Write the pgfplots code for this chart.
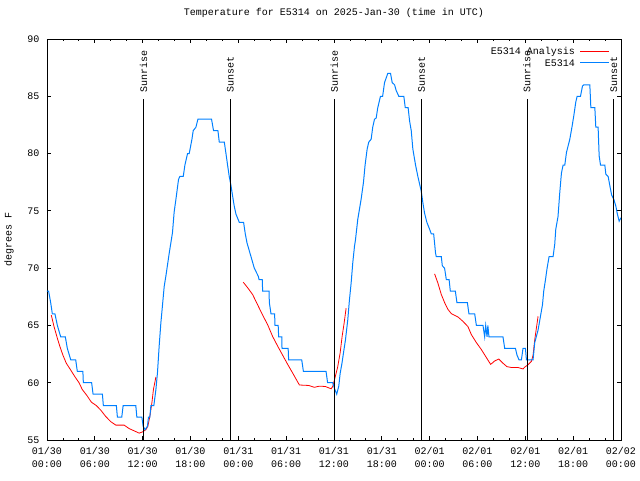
\documentclass[border=0pt]{standalone}
\usepackage{fontspec}
\setmainfont{Liberation Mono}
\usepackage{pgfplots}
\pgfplotsset{compat=1.18}
\definecolor{obsblue}{RGB}{0,128,255}
\definecolor{anared}{RGB}{255,0,0}
\begin{document}
\begin{tikzpicture}
\path[use as bounding box] (-47pt,-40pt) rectangle (593pt,440pt);
\begin{axis}[
  at={(0pt,0pt)}, anchor=south west,
  scale only axis, width=574pt, height=401pt,
  xmin=0, xmax=72, ymin=55, ymax=90,
  font=\fontsize{10}{13}\selectfont,
  /pgf/number format/assume math mode=true,
  xtick={0,6,...,72}, minor x tick num=2,
  ytick={55,60,...,90},
  xticklabels={{01/30\\00:00},{01/30\\06:00},{01/30\\12:00},{01/30\\18:00},
    {01/31\\00:00},{01/31\\06:00},{01/31\\12:00},{01/31\\18:00},
    {02/01\\00:00},{02/01\\06:00},{02/01\\12:00},{02/01\\18:00},{02/02\\00:00}},
  xticklabel style={align=center, yshift=-4pt},
  yticklabel style={xshift=-4pt},
  tick align=inside, major tick length=4pt, minor tick length=2pt,
  tick style={black, line width=0.8pt},
  axis line style={line width=0.8pt},
  title={Temperature for E5314 on 2025-Jan-30 (time in UTC)},
  title style={at={(axis description cs:0.5,1)}, anchor=center, yshift=20pt},
  ylabel={degrees F},
  every axis y label/.style={at={(axis description cs:-0.066,0.5)}, rotate=90, anchor=center},
  every axis legend/.style={at={(1,1)}, anchor=north east,
    xshift=-11pt, yshift=-8pt, row sep=3pt, column sep=5pt, inner sep=0pt, cells={anchor=east}},
  legend plot pos=right, legend cell align=right,
  legend image code/.code={\draw[#1] (0pt,0pt) -- (29pt,0pt);},
]
% analysis (red), three separate runs
\addplot[anared, line width=0.8pt] coordinates {
(0.54,65.9)(0.88,64.9)(1.29,63.9)(1.6,63.2)(2.0,62.4)(2.42,61.7)(2.98,61.1)(3.52,60.5)
(4.02,60.0)(4.43,59.4)(4.99,58.9)(5.57,58.3)(6.2,58.0)(6.75,57.6)(7.37,57.05)(8.0,56.6)
(8.63,56.3)(9.67,56.3)(10.3,56.0)(10.93,55.8)(11.56,55.6)(11.97,55.7)(12.4,55.9)(12.65,56.2)
(12.9,57.05)(13.15,58.2)(13.35,59.4)(13.66,60.5)};
\addlegendentry{E5314 Analysis}
\addplot[anared, line width=0.8pt, forget plot] coordinates {
(24.62,68.77)(25.16,68.3)(25.79,67.7)(26.42,66.8)(27.05,65.9)(27.68,65.06)(28.3,64.04)
(28.93,63.2)(29.56,62.4)(30.19,61.6)(30.82,60.84)(31.66,59.8)(32.83,59.76)(33.54,59.6)
(34.17,59.7)(34.92,59.67)(35.64,59.47)(35.84,59.67)(36.06,60.25)(36.47,61.4)(36.77,62.6)
(37.02,64.04)(37.27,65.2)(37.52,66.5)};
\addplot[anared, line width=0.8pt, forget plot] coordinates {
(48.62,69.5)(49.03,68.7)(49.46,67.7)(49.87,67.0)(50.29,66.4)(50.72,66.03)(51.55,65.74)
(52.17,65.36)(52.8,64.9)(53.23,64.2)(53.86,63.5)(54.48,62.9)(55.11,62.2)(55.65,61.6)
(56.16,61.9)(56.66,62.07)(57.2,61.7)(57.7,61.4)(58.25,61.33)(59.08,61.33)(59.71,61.2)
(59.92,61.36)(60.33,61.56)(60.76,61.86)(60.97,62.4)(61.18,63.75)(61.39,64.78)(61.6,65.8)};
% observations (blue)
\addplot[obsblue, line width=1pt] coordinates {
(0,68)(0.2,68)(0.46,67)(0.67,66)(1.0,66)(1.3,65)(1.72,64)(2.3,64)(2.55,63)(2.98,62)
(3.6,62)(3.8,61)(4.5,61)(4.56,60)(5.6,60)(5.78,59)(6.95,59)(7.07,58)(8.7,58)(8.83,57)
(9.38,57)(9.55,58)(11.14,58)(11.27,57)(11.9,57)(12.06,56.2)(12.3,55.9)(12.6,56.2)
(12.73,57)(12.9,57)(13.03,58)(13.4,58)(13.66,59.4)(13.86,60.9)(14.07,63.2)(14.28,65.2)
(14.48,66.7)(14.7,68.4)(14.91,69.3)(15.33,71.3)(15.74,73.1)(15.95,74.9)(16.17,76)
(16.5,77.75)(16.67,78)(17.09,78)(17.3,79)(17.63,80)(17.84,80)(18.18,81.25)(18.34,82)
(18.68,82.3)(18.93,83)(20.64,83)(20.89,82)(21.44,82)(21.61,81)(22.24,81)(22.45,80)
(22.65,79)(22.86,78)(23.08,77.2)(23.28,76.3)(23.49,75.4)(23.71,74.7)(24.12,74)(24.66,74)
(24.87,73)(25.09,72.2)(25.59,71)(26.0,70)(26.5,69.3)(26.6,69)(27.0,69)(27.05,68)
(27.85,68)(27.89,67)(28.1,66)(28.55,66)(28.6,65)(29.0,65)(29.06,64)(29.45,64)(29.48,63)
(30.25,63)(30.31,62)(31.95,62)(32.16,61)(35.0,61)(35.2,60)(35.84,60)(36.06,59.5)
(36.34,59)(36.6,59.7)(36.77,60.8)(37.0,61.7)(37.19,62.6)(37.44,63.75)(37.73,65.5)
(37.94,67.25)(38.15,68.7)(38.36,70.5)(38.57,71.9)(38.7,72.5)(38.98,74.25)(39.4,76)
(39.7,77.5)(39.9,79)(40.16,80.4)(40.36,81)(40.66,81.25)(40.86,82.3)(41.08,83)(41.29,83.1)
(41.49,84)(41.83,85)(42.1,85)(42.34,86.2)(42.75,87)(43.09,87)(43.3,86.2)(43.6,86)
(43.8,85.5)(44.13,85)(44.76,85)(44.94,84)(45.3,84)(45.48,82.85)(45.69,82)(45.89,80.4)
(46.23,79)(46.52,78)(46.95,76.7)(47.15,75.7)(47.36,74.8)(47.65,74)(47.99,73.4)(48.2,73)
(48.5,73)(48.74,71.3)(48.83,71)(49.46,71)(49.59,70.2)(49.87,70)(50.09,69)(50.44,69)
(50.59,68)(51.22,68)(51.42,67)(52.73,67)(52.93,66)(53.65,66)(53.86,65)(54.69,65)
(54.9,64)(55.03,65)(55.2,64)(55.3,65)(55.44,64)(57.2,64)(57.41,63)(58.76,63)(58.96,62.4)
(59.21,62)(59.51,62)(59.71,63)(60.01,63)(60.14,62)(60.97,62)(61.18,63.5)(61.6,64.6)
(61.9,65.8)(62.15,66.8)(62.31,68)(62.53,69)(62.73,70)(62.98,71)(63.48,71)(63.69,72.1)
(63.82,73.4)(64.1,74.5)(64.32,76.6)(64.53,78.3)(64.74,79)(64.95,79)(65.16,80.1)
(65.58,81.25)(65.87,82.4)(66.08,83.3)(66.33,84.5)(66.5,85)(66.92,85)(67.17,85.9)(67.34,86)
(68.09,86)(68.22,84)(68.72,84)(68.84,82.3)(69.13,82.3)(69.26,79.8)(69.43,79)(69.97,79)
(70.1,78.2)(70.39,78)(70.6,77.2)(70.82,76.4)(71.1,76)(71.36,75.4)(71.52,74.8)(71.77,74.1)
(72,74.4)};
\addlegendentry{E5314}
% sunrise / sunset markers
\addplot[black, line width=0.8pt, forget plot] coordinates {(12.1,55) (12.1,84.8)};
\addplot[black, line width=0.8pt, forget plot] coordinates {(23.0,55) (23.0,84.8)};
\addplot[black, line width=0.8pt, forget plot] coordinates {(36.05,55) (36.05,84.8)};
\addplot[black, line width=0.8pt, forget plot] coordinates {(47.0,55) (47.0,84.8)};
\addplot[black, line width=0.8pt, forget plot] coordinates {(60.2,55) (60.2,84.8)};
\addplot[black, line width=0.8pt, forget plot] coordinates {(71.1,55) (71.1,84.8)};
\node[rotate=90, anchor=west, inner sep=0pt] at (axis cs:12.1,85.3) {Sunrise};
\node[rotate=90, anchor=west, inner sep=0pt] at (axis cs:23.0,85.3) {Sunset};
\node[rotate=90, anchor=west, inner sep=0pt] at (axis cs:36.05,85.3) {Sunrise};
\node[rotate=90, anchor=west, inner sep=0pt] at (axis cs:47.0,85.3) {Sunset};
\node[rotate=90, anchor=west, inner sep=0pt] at (axis cs:60.2,85.3) {Sunrise};
\node[rotate=90, anchor=west, inner sep=0pt] at (axis cs:71.1,85.3) {Sunset};
\end{axis}
\end{tikzpicture}
\end{document}
